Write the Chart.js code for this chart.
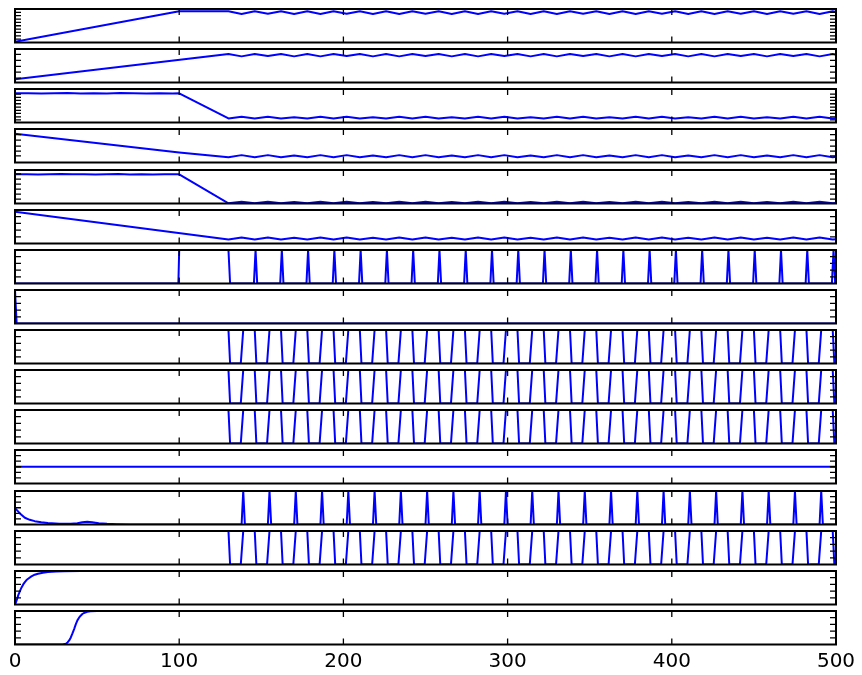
<!DOCTYPE html>
<html>
<head>
<meta charset="utf-8">
<script src="https://cdn.jsdelivr.net/npm/chart.js@4.4.1/dist/chart.umd.min.js"></script>
<style>
  html, body { margin: 0; padding: 0; background: #fff; }
  #wrap { position: relative; width: 862px; height: 675px; overflow: hidden; }
  #wrap canvas { position: absolute; left: 0; }
</style>
</head>
<body>
<div id="wrap"></div>
<script>
// x axis
const xTicks = [0, 100, 200, 300, 400, 500];

// small wave after t=130, one point every half period
const waveX = [
  130, 138, 146, 154, 162, 170, 178, 186,
  194, 202, 210, 218, 226, 234, 242, 250,
  258, 266, 274, 282, 290, 298, 306, 314,
  322, 330, 338, 346, 354, 362, 370, 378,
  386, 394, 402, 410, 418, 426, 434, 442,
  450, 458, 466, 474, 482, 490, 498, 500
];

// panel 1
const p1Head = [[0, 0.02], [100, 0.93]];
const p1Wave = [
  0.93, 0.85, 0.93, 0.86, 0.93, 0.85, 0.93, 0.85,
  0.93, 0.86, 0.93, 0.85, 0.93, 0.85, 0.93, 0.86,
  0.93, 0.85, 0.93, 0.85, 0.93, 0.86, 0.93, 0.85,
  0.93, 0.85, 0.93, 0.86, 0.93, 0.85, 0.93, 0.85,
  0.93, 0.86, 0.93, 0.85, 0.93, 0.85, 0.93, 0.86,
  0.93, 0.85, 0.93, 0.86, 0.93, 0.85, 0.93, 0.91
];
// panel 2
const p2Head = [[0, 0.10]];
const p2Wave = [
  0.85, 0.78, 0.85, 0.79, 0.85, 0.78, 0.85, 0.78,
  0.85, 0.79, 0.85, 0.78, 0.85, 0.78, 0.85, 0.79,
  0.85, 0.78, 0.85, 0.78, 0.85, 0.79, 0.85, 0.78,
  0.85, 0.78, 0.85, 0.79, 0.85, 0.78, 0.85, 0.78,
  0.85, 0.79, 0.85, 0.78, 0.85, 0.78, 0.85, 0.79,
  0.85, 0.78, 0.85, 0.79, 0.85, 0.78, 0.85, 0.83
];
// panel 3
const p3Head = [[0, 0.87], [8, 0.876], [16, 0.865], [24, 0.872], [32, 0.879], [40, 0.868], [48, 0.874],
  [56, 0.866], [64, 0.877], [72, 0.87], [80, 0.865], [88, 0.874], [96, 0.868], [100, 0.87]];
const p3Wave = [
  0.12, 0.17, 0.12, 0.17, 0.12, 0.16, 0.12, 0.17,
  0.12, 0.17, 0.12, 0.16, 0.12, 0.17, 0.12, 0.17,
  0.12, 0.16, 0.12, 0.17, 0.12, 0.17, 0.12, 0.16,
  0.12, 0.17, 0.12, 0.17, 0.12, 0.16, 0.12, 0.17,
  0.12, 0.17, 0.12, 0.16, 0.12, 0.17, 0.12, 0.17,
  0.12, 0.16, 0.12, 0.17, 0.12, 0.17, 0.12, 0.13
];
// panel 4
const p4Head = [[0, 0.86], [100, 0.30]];
const p4Wave = [
  0.16, 0.22, 0.16, 0.22, 0.16, 0.21, 0.16, 0.22,
  0.16, 0.22, 0.16, 0.21, 0.16, 0.22, 0.16, 0.22,
  0.16, 0.21, 0.16, 0.22, 0.16, 0.22, 0.16, 0.21,
  0.16, 0.22, 0.16, 0.22, 0.16, 0.21, 0.16, 0.22,
  0.16, 0.22, 0.16, 0.21, 0.16, 0.22, 0.16, 0.22,
  0.16, 0.21, 0.16, 0.22, 0.16, 0.22, 0.16, 0.17
];
// panel 5
const p5Head = [[0, 0.87], [7, 0.874], [14, 0.866], [21, 0.872], [28, 0.878], [35, 0.87], [42, 0.876],
  [49, 0.868], [56, 0.873], [63, 0.879], [70, 0.869], [77, 0.874], [84, 0.867], [91, 0.872], [100, 0.87]];
const p5Wave = [
  0.005, 0.05, 0.005, 0.05, 0.005, 0.045, 0.005, 0.05,
  0.005, 0.05, 0.005, 0.045, 0.005, 0.05, 0.005, 0.05,
  0.005, 0.045, 0.005, 0.05, 0.005, 0.05, 0.005, 0.045,
  0.005, 0.05, 0.005, 0.05, 0.005, 0.045, 0.005, 0.05,
  0.005, 0.05, 0.005, 0.045, 0.005, 0.05, 0.005, 0.05,
  0.005, 0.045, 0.005, 0.05, 0.005, 0.05, 0.005, 0.015
];
// panel 6
const p6Head = [[0, 0.95]];
const p6Wave = [
  0.12, 0.18, 0.12, 0.18, 0.12, 0.17, 0.12, 0.18,
  0.12, 0.18, 0.12, 0.17, 0.12, 0.18, 0.12, 0.18,
  0.12, 0.17, 0.12, 0.18, 0.12, 0.18, 0.12, 0.17,
  0.12, 0.18, 0.12, 0.18, 0.12, 0.17, 0.12, 0.18,
  0.12, 0.18, 0.12, 0.17, 0.12, 0.18, 0.12, 0.18,
  0.12, 0.17, 0.12, 0.18, 0.12, 0.18, 0.12, 0.13
];

// panel 7 : pulse 100-130 then short spikes
const p7Head = [[0, 0], [99.5, 0], [100, 1], [130, 1], [131, 0]];
const p7Spikes = [146.5, 162.5, 178.5, 194.5, 210.5, 226.5, 242.5, 258.5, 274.5, 290.5, 306.5, 322.5,
  338.5, 354.5, 370.5, 386.5, 402.5, 418.5, 434.5, 450.5, 466.5, 482.5, 498.5];
// panel 8
const p8 = [[0, 1], [1, 0], [500, 0]];
// panels 9, 10, 11, 14 : gate signal
const gateFall = [130, 146, 162, 178, 194, 210, 226, 242, 258, 274, 290, 306,
  322, 338, 354, 370, 386, 402, 418, 434, 450, 466, 482, 498];
const gateRise = [137.5, 153.5, 169.5, 185.5, 201.5, 217.5, 233.5, 249.5, 265.5, 281.5, 297.5, 313.5,
  329.5, 345.5, 361.5, 377.5, 393.5, 409.5, 425.5, 441.5, 457.5, 473.5, 489.5];
// panel 12
const p12 = [[0, 0.5], [500, 0.5]];
// panel 13
const p13Head = [[0, 0.49], [3, 0.33], [6, 0.2], [9, 0.14], [12, 0.1], [16, 0.07], [20, 0.045], [27, 0.02],
  [34, 0.02], [38, 0.04], [41, 0.07], [44, 0.08], [47, 0.07], [51, 0.04], [56, 0.02], [62, 0.01], [70, 0]];
const p13Spikes = [139, 155, 171, 187, 203, 219, 235, 251, 267, 283, 299, 315,
  331, 347, 363, 379, 395, 411, 427, 443, 459, 475, 491];
// panel 15
const p15 = [[0, 0], [1, 0.12], [2, 0.28], [3, 0.4], [4, 0.51], [5, 0.6], [6, 0.67], [7, 0.73], [8, 0.77],
  [10, 0.84], [12, 0.89], [14, 0.92], [17, 0.95], [20, 0.97], [25, 0.985], [30, 0.995], [40, 1], [500, 1]];
// panel 16
const p16 = [[0, 0], [29, 0], [31, 0.02], [32, 0.06], [33, 0.12], [34, 0.21], [35, 0.33], [36, 0.46], [37, 0.6],
  [38, 0.72], [39, 0.8], [40, 0.86], [41, 0.91], [42, 0.94], [44, 0.975], [46, 0.99], [50, 1], [500, 1]];

// y tick marks (no labels)
const ticksP1 = [0.1, 0.2, 0.3, 0.4, 0.5, 0.6, 0.7, 0.8, 0.9];
const ticksP2 = [0.13, 0.31, 0.48, 0.66, 0.84];
const ticksP3 = [0.08, 0.17, 0.27, 0.36, 0.46, 0.56, 0.66, 0.75, 0.85];
const ticksP4 = [0.2, 0.34, 0.49, 0.67, 0.83];
const ticksP5 = [0.13, 0.28, 0.43, 0.58, 0.73, 0.88];
const ticksFifth = [0.2, 0.4, 0.6, 0.8];
const ticksSixth = [0.167, 0.333, 0.5, 0.667, 0.833];

function withWave(head, wave) {
  return head.concat(waveX.map((x, i) => [x, wave[i]]));
}
function withSpikes(head, spikes) {
  let pts = head.slice();
  spikes.forEach(s => { pts.push([s - 1, 0], [s, 1], [s + 1, 0]); });
  pts.push([500, 0]);
  return pts;
}
function gate() {
  let pts = [[0, 1]];
  gateFall.forEach((f, k) => {
    pts.push([f, 1], [f + 1, 0]);
    if (gateRise[k] !== undefined) pts.push([gateRise[k], 0], [gateRise[k] + 1.5, 1]);
  });
  pts.push([500, 0]);
  return pts;
}

const panels = [
  [withWave(p1Head, p1Wave), ticksP1],
  [withWave(p2Head, p2Wave), ticksP2],
  [withWave(p3Head, p3Wave), ticksP3],
  [withWave(p4Head, p4Wave), ticksP4],
  [withWave(p5Head, p5Wave), ticksP5],
  [withWave(p6Head, p6Wave), ticksFifth],
  [withSpikes(p7Head, p7Spikes), ticksFifth],
  [p8, ticksFifth],
  [gate(), ticksFifth],
  [gate(), ticksFifth],
  [gate(), ticksFifth],
  [p12, ticksSixth],
  [withSpikes(p13Head, p13Spikes), ticksSixth],
  [gate(), ticksFifth],
  [p15, ticksFifth],
  [p16, ticksFifth]
];

// frame + inward ticks, drawn over the line like matplotlib spines
const framePlugin = {
  id: 'frame',
  afterDatasetsDraw(chart, args, opts) {
    const ctx = chart.ctx;
    const a = chart.chartArea;
    const x = chart.scales.x, y = chart.scales.y;
    ctx.save();
    ctx.strokeStyle = '#000';
    ctx.lineWidth = 1.3;
    ctx.beginPath();
    xTicks.forEach(v => {
      const px = x.getPixelForValue(v);
      ctx.moveTo(px, a.top); ctx.lineTo(px, a.top + 6);
      ctx.moveTo(px, a.bottom); ctx.lineTo(px, a.bottom - 6);
    });
    opts.ticks.forEach(v => {
      const py = y.getPixelForValue(v);
      ctx.moveTo(a.left, py); ctx.lineTo(a.left + 6, py);
      ctx.moveTo(a.right, py); ctx.lineTo(a.right - 6, py);
    });
    ctx.stroke();
    ctx.lineWidth = 2;
    ctx.strokeRect(a.left, a.top, a.right - a.left, a.bottom - a.top);
    ctx.restore();
  }
};

const wrap = document.getElementById('wrap');
const H = 33.5;

panels.forEach((p, i) => {
  const last = i === panels.length - 1;
  const top = Math.round(9 + 40.13 * i);
  const cv = document.createElement('canvas');
  cv.width = 862;
  cv.height = last ? 72 : 46;
  cv.style.top = (top - 6) + 'px';
  wrap.appendChild(cv);

  const xScale = {
    type: 'linear',
    min: 0,
    max: 500,
    display: last,
    grid: { display: false, drawTicks: false },
    border: { display: false },
    ticks: {
      autoSkip: false,
      maxRotation: 0,
      padding: 5,
      color: '#000',
      font: { family: 'DejaVu Sans', size: 20 }
    }
  };
  if (last) {
    xScale.afterBuildTicks = s => { s.ticks = xTicks.map(v => ({ value: v })); };
    xScale.afterFit = s => { s.height = 72 - 6 - H; };
  }

  new Chart(cv, {
    type: 'line',
    data: {
      datasets: [{
        data: p[0].map(d => ({ x: d[0], y: d[1] })),
        borderColor: '#0000ff',
        borderWidth: 2,
        borderJoinStyle: 'round',
        pointRadius: 0,
        tension: 0,
        fill: false
      }]
    },
    options: {
      responsive: false,
      animation: false,
      events: [],
      layout: { padding: { left: 15, right: 26, top: 6, bottom: last ? 0 : 46 - 6 - H } },
      plugins: {
        legend: { display: false },
        tooltip: { enabled: false },
        frame: { ticks: p[1] }
      },
      scales: {
        x: xScale,
        y: { type: 'linear', min: 0, max: 1, display: false }
      }
    },
    plugins: [framePlugin]
  });
});
</script>
</body>
</html>
